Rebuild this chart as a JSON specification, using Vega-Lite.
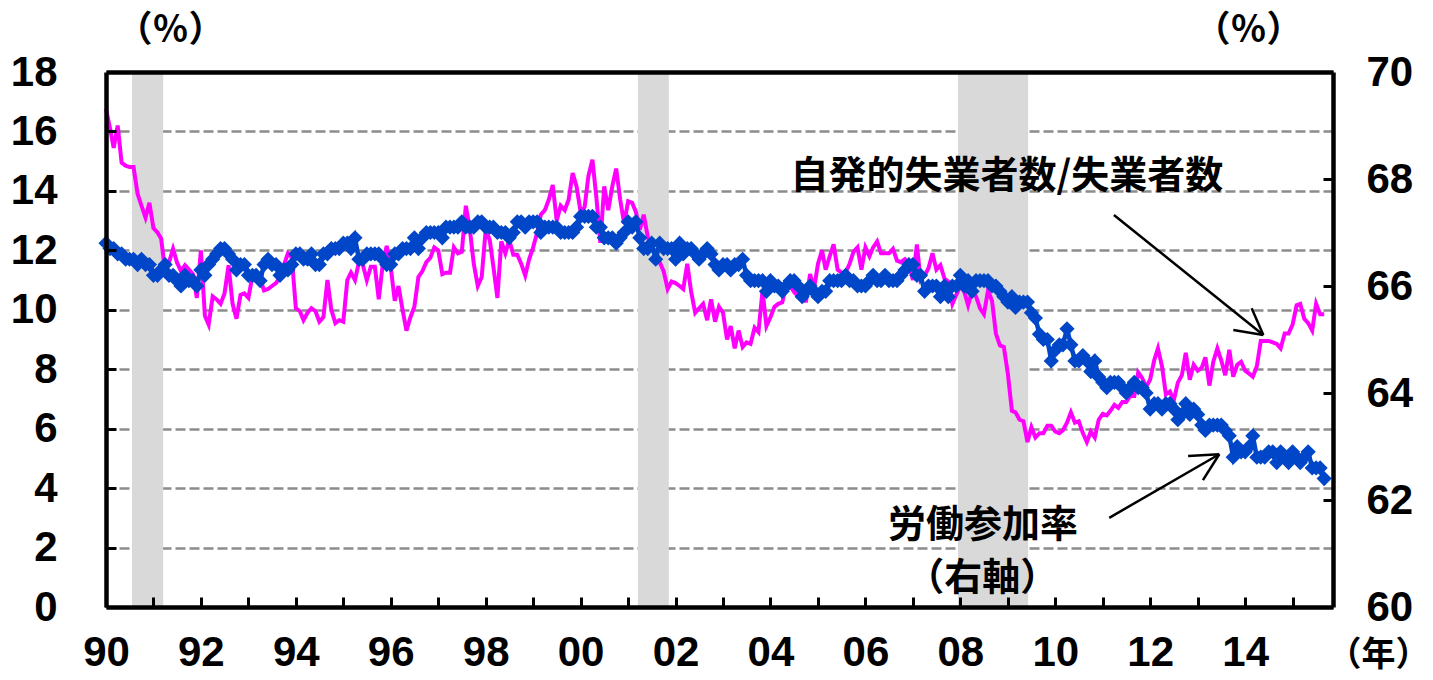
{
"$schema":"https://vega.github.io/schema/vega-lite/v6.json",
"width":1227,"height":535,
"autosize":{"type":"none"},
"padding":{"left":106,"top":72,"right":100,"bottom":73},
"background":"white",
"config":{"view":{"stroke":null},
"axis":{"labelFont":"Liberation Sans","labelFontWeight":"bold","labelFontSize":42,"labelColor":"black","domainColor":"black","domainWidth":4.5,"tickColor":"black","tickWidth":3,"tickSize":-10,"labelOverlap":false,"labelFlush":false,"labelBound":false,"titleFont":"Noto Sans CJK JP","titleFontWeight":"bold","titleFontSize":36,"titleColor":"black","grid":false}},
"datasets":{
"rec":[{"start":"1990-07-20","end":"1991-03-17"},{"start":"2001-03-17","end":"2001-11-10"},{"start":"2007-12-14","end":"2009-06-06"}],
"arrows":[
{"x":"2011-03-28","y":13.19,"x2":"2014-05-21","y2":9.15},
{"x":"2014-05-21","y":9.15,"x2":"2013-10-02","y2":9.32},
{"x":"2014-05-21","y":9.15,"x2":"2014-02-20","y2":10.05},
{"x":"2011-02-20","y":3.0,"x2":"2013-06-16","y2":5.14},
{"x":"2013-06-16","y":5.14,"x2":"2012-10-19","y2":5.08},
{"x":"2013-06-16","y":5.14,"x2":"2013-02-10","y2":4.27}],
"notes":[
{"x":"2008-12-24","y":14.47,"label":"自発的失業者数/失業者数"},
{"x":"2008-06-24","y":2.72,"label":"労働参加率"},
{"x":"2008-06-17","y":0.95,"label":"（右軸）"}],
"m":[
{"m":"1990-01","p":16.76,"b":66.8},{"m":"1990-02","p":16.1,"b":66.7},{"m":"1990-03","p":15.45,"b":66.7},{"m":"1990-04","p":16.2,"b":66.6},{"m":"1990-05","p":14.95,"b":66.6},{"m":"1990-06","p":14.85,"b":66.5},{"m":"1990-07","p":14.8,"b":66.5},{"m":"1990-08","p":14.8,"b":66.5},{"m":"1990-09","p":13.9,"b":66.4},{"m":"1990-10","p":13.5,"b":66.5},{"m":"1990-11","p":13.1,"b":66.4},{"m":"1990-12","p":13.6,"b":66.4},
{"m":"1991-01","p":12.75,"b":66.2},{"m":"1991-02","p":12.6,"b":66.2},{"m":"1991-03","p":12.4,"b":66.3},{"m":"1991-04","p":11.3,"b":66.4},{"m":"1991-05","p":11.6,"b":66.2},{"m":"1991-06","p":12.05,"b":66.2},{"m":"1991-07","p":11.6,"b":66.1},{"m":"1991-08","p":11.3,"b":66.0},{"m":"1991-09","p":11.5,"b":66.2},{"m":"1991-10","p":11.35,"b":66.1},{"m":"1991-11","p":11.2,"b":66.1},{"m":"1991-12","p":10.4,"b":66.0},
{"m":"1992-01","p":12.0,"b":66.3},{"m":"1992-02","p":9.8,"b":66.2},{"m":"1992-03","p":9.5,"b":66.4},{"m":"1992-04","p":10.45,"b":66.5},{"m":"1992-05","p":10.35,"b":66.6},{"m":"1992-06","p":10.2,"b":66.7},{"m":"1992-07","p":10.55,"b":66.7},{"m":"1992-08","p":11.5,"b":66.6},{"m":"1992-09","p":10.2,"b":66.5},{"m":"1992-10","p":9.7,"b":66.3},{"m":"1992-11","p":10.5,"b":66.4},{"m":"1992-12","p":10.55,"b":66.4},
{"m":"1993-01","p":10.4,"b":66.2},{"m":"1993-02","p":11.15,"b":66.2},{"m":"1993-03","p":11.1,"b":66.2},{"m":"1993-04","p":11.05,"b":66.1},{"m":"1993-05","p":10.65,"b":66.4},{"m":"1993-06","p":10.7,"b":66.5},{"m":"1993-07","p":10.8,"b":66.4},{"m":"1993-08","p":10.9,"b":66.4},{"m":"1993-09","p":11.1,"b":66.2},{"m":"1993-10","p":11.5,"b":66.3},{"m":"1993-11","p":11.9,"b":66.3},{"m":"1993-12","p":11.75,"b":66.4},
{"m":"1994-01","p":10.05,"b":66.6},{"m":"1994-02","p":9.95,"b":66.6},{"m":"1994-03","p":9.65,"b":66.5},{"m":"1994-04","p":9.9,"b":66.5},{"m":"1994-05","p":10.05,"b":66.6},{"m":"1994-06","p":9.95,"b":66.4},{"m":"1994-07","p":9.6,"b":66.4},{"m":"1994-08","p":9.75,"b":66.6},{"m":"1994-09","p":11.0,"b":66.6},{"m":"1994-10","p":10.0,"b":66.7},{"m":"1994-11","p":9.55,"b":66.7},{"m":"1994-12","p":9.65,"b":66.7},
{"m":"1995-01","p":9.6,"b":66.8},{"m":"1995-02","p":11.0,"b":66.8},{"m":"1995-03","p":11.25,"b":66.7},{"m":"1995-04","p":11.0,"b":66.9},{"m":"1995-05","p":11.6,"b":66.5},{"m":"1995-06","p":11.5,"b":66.5},{"m":"1995-07","p":11.0,"b":66.6},{"m":"1995-08","p":11.45,"b":66.6},{"m":"1995-09","p":11.45,"b":66.6},{"m":"1995-10","p":10.35,"b":66.6},{"m":"1995-11","p":11.55,"b":66.5},{"m":"1995-12","p":12.15,"b":66.4},
{"m":"1996-01","p":11.45,"b":66.4},{"m":"1996-02","p":10.3,"b":66.6},{"m":"1996-03","p":10.8,"b":66.6},{"m":"1996-04","p":10.0,"b":66.7},{"m":"1996-05","p":9.3,"b":66.7},{"m":"1996-06","p":9.75,"b":66.7},{"m":"1996-07","p":10.1,"b":66.9},{"m":"1996-08","p":11.1,"b":66.7},{"m":"1996-09","p":11.3,"b":66.9},{"m":"1996-10","p":11.6,"b":67.0},{"m":"1996-11","p":11.75,"b":67.0},{"m":"1996-12","p":12.1,"b":67.0},
{"m":"1997-01","p":12.0,"b":67.0},{"m":"1997-02","p":11.2,"b":66.9},{"m":"1997-03","p":11.25,"b":67.1},{"m":"1997-04","p":11.25,"b":67.1},{"m":"1997-05","p":12.1,"b":67.1},{"m":"1997-06","p":11.9,"b":67.1},{"m":"1997-07","p":11.95,"b":67.2},{"m":"1997-08","p":13.5,"b":67.1},{"m":"1997-09","p":12.7,"b":67.1},{"m":"1997-10","p":11.55,"b":67.1},{"m":"1997-11","p":10.8,"b":67.2},{"m":"1997-12","p":11.1,"b":67.2},
{"m":"1998-01","p":12.7,"b":67.1},{"m":"1998-02","p":12.35,"b":67.1},{"m":"1998-03","p":11.45,"b":67.1},{"m":"1998-04","p":10.4,"b":67.0},{"m":"1998-05","p":12.3,"b":67.0},{"m":"1998-06","p":11.9,"b":67.0},{"m":"1998-07","p":12.35,"b":66.9},{"m":"1998-08","p":11.85,"b":67.0},{"m":"1998-09","p":11.85,"b":67.2},{"m":"1998-10","p":11.55,"b":67.2},{"m":"1998-11","p":11.15,"b":67.1},{"m":"1998-12","p":11.7,"b":67.2},
{"m":"1999-01","p":12.1,"b":67.2},{"m":"1999-02","p":12.6,"b":67.2},{"m":"1999-03","p":13.2,"b":67.0},{"m":"1999-04","p":13.35,"b":67.1},{"m":"1999-05","p":13.7,"b":67.1},{"m":"1999-06","p":14.2,"b":67.1},{"m":"1999-07","p":13.0,"b":67.1},{"m":"1999-08","p":13.5,"b":67.0},{"m":"1999-09","p":13.35,"b":67.0},{"m":"1999-10","p":13.7,"b":67.0},{"m":"1999-11","p":14.6,"b":67.0},{"m":"1999-12","p":14.15,"b":67.1},
{"m":"2000-01","p":13.3,"b":67.3},{"m":"2000-02","p":13.45,"b":67.3},{"m":"2000-03","p":14.5,"b":67.3},{"m":"2000-04","p":15.05,"b":67.3},{"m":"2000-05","p":13.8,"b":67.1},{"m":"2000-06","p":12.25,"b":67.1},{"m":"2000-07","p":14.15,"b":66.9},{"m":"2000-08","p":13.35,"b":66.9},{"m":"2000-09","p":14.15,"b":66.9},{"m":"2000-10","p":14.75,"b":66.8},{"m":"2000-11","p":13.7,"b":66.9},{"m":"2000-12","p":12.9,"b":67.0},
{"m":"2001-01","p":13.65,"b":67.2},{"m":"2001-02","p":13.6,"b":67.1},{"m":"2001-03","p":13.3,"b":67.2},{"m":"2001-04","p":12.7,"b":66.9},{"m":"2001-05","p":13.2,"b":66.7},{"m":"2001-06","p":12.45,"b":66.7},{"m":"2001-07","p":12.0,"b":66.8},{"m":"2001-08","p":12.0,"b":66.5},{"m":"2001-09","p":11.6,"b":66.8},{"m":"2001-10","p":11.3,"b":66.7},{"m":"2001-11","p":10.7,"b":66.7},{"m":"2001-12","p":10.95,"b":66.7},
{"m":"2002-01","p":10.9,"b":66.5},{"m":"2002-02","p":10.8,"b":66.8},{"m":"2002-03","p":10.7,"b":66.6},{"m":"2002-04","p":11.55,"b":66.7},{"m":"2002-05","p":10.6,"b":66.7},{"m":"2002-06","p":9.9,"b":66.6},{"m":"2002-07","p":10.05,"b":66.5},{"m":"2002-08","p":10.2,"b":66.6},{"m":"2002-09","p":9.65,"b":66.7},{"m":"2002-10","p":10.35,"b":66.6},{"m":"2002-11","p":9.6,"b":66.4},{"m":"2002-12","p":10.1,"b":66.3},
{"m":"2003-01","p":9.9,"b":66.4},{"m":"2003-02","p":9.0,"b":66.4},{"m":"2003-03","p":9.45,"b":66.3},{"m":"2003-04","p":8.7,"b":66.4},{"m":"2003-05","p":9.3,"b":66.4},{"m":"2003-06","p":8.75,"b":66.5},{"m":"2003-07","p":8.9,"b":66.2},{"m":"2003-08","p":8.85,"b":66.1},{"m":"2003-09","p":9.4,"b":66.1},{"m":"2003-10","p":9.25,"b":66.1},{"m":"2003-11","p":10.65,"b":66.1},{"m":"2003-12","p":9.45,"b":65.9},
{"m":"2004-01","p":9.75,"b":66.1},{"m":"2004-02","p":10.1,"b":66.0},{"m":"2004-03","p":10.2,"b":66.0},{"m":"2004-04","p":10.25,"b":65.9},{"m":"2004-05","p":10.8,"b":66.0},{"m":"2004-06","p":10.8,"b":66.1},{"m":"2004-07","p":10.6,"b":66.1},{"m":"2004-08","p":10.45,"b":66.0},{"m":"2004-09","p":10.3,"b":65.8},{"m":"2004-10","p":10.3,"b":65.9},{"m":"2004-11","p":11.2,"b":66.0},{"m":"2004-12","p":10.7,"b":65.9},
{"m":"2005-01","p":11.55,"b":65.8},{"m":"2005-02","p":12.0,"b":65.9},{"m":"2005-03","p":11.35,"b":65.9},{"m":"2005-04","p":11.8,"b":66.1},{"m":"2005-05","p":12.2,"b":66.1},{"m":"2005-06","p":11.35,"b":66.1},{"m":"2005-07","p":11.25,"b":66.1},{"m":"2005-08","p":11.25,"b":66.2},{"m":"2005-09","p":11.55,"b":66.1},{"m":"2005-10","p":11.95,"b":66.1},{"m":"2005-11","p":12.1,"b":66.0},{"m":"2005-12","p":11.35,"b":66.0},
{"m":"2006-01","p":12.1,"b":66.0},{"m":"2006-02","p":11.8,"b":66.1},{"m":"2006-03","p":12.1,"b":66.2},{"m":"2006-04","p":12.3,"b":66.1},{"m":"2006-05","p":11.9,"b":66.1},{"m":"2006-06","p":11.9,"b":66.2},{"m":"2006-07","p":11.9,"b":66.1},{"m":"2006-08","p":12.05,"b":66.1},{"m":"2006-09","p":11.65,"b":66.1},{"m":"2006-10","p":11.6,"b":66.2},{"m":"2006-11","p":11.7,"b":66.3},{"m":"2006-12","p":11.55,"b":66.4},
{"m":"2007-01","p":11.0,"b":66.4},{"m":"2007-02","p":12.2,"b":66.2},{"m":"2007-03","p":11.0,"b":66.2},{"m":"2007-04","p":11.15,"b":65.9},{"m":"2007-05","p":11.4,"b":66.0},{"m":"2007-06","p":11.9,"b":66.0},{"m":"2007-07","p":11.35,"b":66.0},{"m":"2007-08","p":11.5,"b":65.8},{"m":"2007-09","p":11.05,"b":66.0},{"m":"2007-10","p":10.95,"b":65.8},{"m":"2007-11","p":10.2,"b":66.0},{"m":"2007-12","p":10.5,"b":66.0},
{"m":"2008-01","p":10.8,"b":66.2},{"m":"2008-02","p":10.6,"b":66.0},{"m":"2008-03","p":10.15,"b":66.1},{"m":"2008-04","p":10.65,"b":65.9},{"m":"2008-05","p":10.45,"b":66.1},{"m":"2008-06","p":10.05,"b":66.1},{"m":"2008-07","p":9.85,"b":66.1},{"m":"2008-08","p":10.65,"b":66.1},{"m":"2008-09","p":10.3,"b":66.0},{"m":"2008-10","p":9.2,"b":66.0},{"m":"2008-11","p":8.8,"b":65.9},{"m":"2008-12","p":8.75,"b":65.8},
{"m":"2009-01","p":7.85,"b":65.7},{"m":"2009-02","p":6.6,"b":65.8},{"m":"2009-03","p":6.55,"b":65.6},{"m":"2009-04","p":6.3,"b":65.7},{"m":"2009-05","p":6.25,"b":65.7},{"m":"2009-06","p":5.55,"b":65.7},{"m":"2009-07","p":6.05,"b":65.5},{"m":"2009-08","p":5.7,"b":65.4},{"m":"2009-09","p":5.85,"b":65.1},{"m":"2009-10","p":5.85,"b":65.0},{"m":"2009-11","p":6.1,"b":65.0},{"m":"2009-12","p":6.1,"b":64.6},
{"m":"2010-01","p":5.9,"b":64.8},{"m":"2010-02","p":5.85,"b":64.9},{"m":"2010-03","p":5.95,"b":64.9},{"m":"2010-04","p":6.2,"b":65.2},{"m":"2010-05","p":6.55,"b":64.9},{"m":"2010-06","p":6.2,"b":64.6},{"m":"2010-07","p":6.25,"b":64.6},{"m":"2010-08","p":5.85,"b":64.7},{"m":"2010-09","p":5.55,"b":64.6},{"m":"2010-10","p":5.9,"b":64.4},{"m":"2010-11","p":5.7,"b":64.6},{"m":"2010-12","p":6.3,"b":64.3},
{"m":"2011-01","p":6.5,"b":64.2},{"m":"2011-02","p":6.45,"b":64.1},{"m":"2011-03","p":6.6,"b":64.2},{"m":"2011-04","p":6.8,"b":64.2},{"m":"2011-05","p":6.7,"b":64.2},{"m":"2011-06","p":6.9,"b":64.1},{"m":"2011-07","p":6.9,"b":64.0},{"m":"2011-08","p":7.1,"b":64.1},{"m":"2011-09","p":7.1,"b":64.2},{"m":"2011-10","p":7.9,"b":64.1},{"m":"2011-11","p":7.7,"b":64.1},{"m":"2011-12","p":7.4,"b":64.0},
{"m":"2012-01","p":7.65,"b":63.7},{"m":"2012-02","p":8.3,"b":63.8},{"m":"2012-03","p":8.7,"b":63.8},{"m":"2012-04","p":8.1,"b":63.7},{"m":"2012-05","p":7.15,"b":63.8},{"m":"2012-06","p":7.25,"b":63.8},{"m":"2012-07","p":6.95,"b":63.7},{"m":"2012-08","p":7.55,"b":63.5},{"m":"2012-09","p":7.8,"b":63.6},{"m":"2012-10","p":8.55,"b":63.8},{"m":"2012-11","p":7.65,"b":63.6},{"m":"2012-12","p":8.15,"b":63.7},
{"m":"2013-01","p":7.95,"b":63.6},{"m":"2013-02","p":8.05,"b":63.4},{"m":"2013-03","p":8.4,"b":63.3},{"m":"2013-04","p":7.45,"b":63.4},{"m":"2013-05","p":8.25,"b":63.4},{"m":"2013-06","p":8.7,"b":63.4},{"m":"2013-07","p":8.3,"b":63.4},{"m":"2013-08","p":7.8,"b":63.3},{"m":"2013-09","p":8.65,"b":63.2},{"m":"2013-10","p":7.75,"b":62.8},{"m":"2013-11","p":8.15,"b":63.0},{"m":"2013-12","p":8.25,"b":62.9},
{"m":"2014-01","p":7.95,"b":62.9},{"m":"2014-02","p":7.85,"b":63.0},{"m":"2014-03","p":7.75,"b":63.2},{"m":"2014-04","p":8.1,"b":62.8},{"m":"2014-05","p":8.95,"b":62.8},{"m":"2014-06","p":8.95,"b":62.8},{"m":"2014-07","p":8.95,"b":62.9},{"m":"2014-08","p":8.9,"b":62.9},{"m":"2014-09","p":8.85,"b":62.7},{"m":"2014-10","p":8.7,"b":62.9},{"m":"2014-11","p":9.2,"b":62.8},{"m":"2014-12","p":9.2,"b":62.7},
{"m":"2015-01","p":9.5,"b":62.9},{"m":"2015-02","p":10.15,"b":62.8},{"m":"2015-03","p":10.2,"b":62.7},{"m":"2015-04","p":9.7,"b":62.8},{"m":"2015-05","p":9.55,"b":62.9},{"m":"2015-06","p":9.3,"b":62.6},{"m":"2015-07","p":10.2,"b":62.6},{"m":"2015-08","p":9.85,"b":62.6},{"m":"2015-09","p":9.85,"b":62.4}
]},
"resolve":{"scale":{"y":"independent"}},
"layer":[
{"layer":[
 {"data":{"name":"rec"},
  "mark":{"type":"rect","color":"#D9D9D9"},
  "encoding":{
   "x":{"field":"start","type":"temporal","scale":{"type":"utc","domain":[{"year":1990,"month":1,"date":1,"utc":true},{"year":2015,"month":11,"date":8,"utc":true}]},"axis":null},
   "x2":{"field":"end"}}},
 {"data":{"name":"m"},
  "mark":{"type":"line","color":"#FF00FF","strokeWidth":4},
  "encoding":{
   "x":{"field":"m","type":"temporal","scale":{"type":"utc","domain":[{"year":1990,"month":1,"date":1,"utc":true},{"year":2015,"month":11,"date":8,"utc":true}]},
     "axis":{"orient":"bottom","zindex":1,"values":[{"year":1990,"utc":true},{"year":1991,"utc":true},{"year":1992,"utc":true},{"year":1993,"utc":true},{"year":1994,"utc":true},{"year":1995,"utc":true},{"year":1996,"utc":true},{"year":1997,"utc":true},{"year":1998,"utc":true},{"year":1999,"utc":true},{"year":2000,"utc":true},{"year":2001,"utc":true},{"year":2002,"utc":true},{"year":2003,"utc":true},{"year":2004,"utc":true},{"year":2005,"utc":true},{"year":2006,"utc":true},{"year":2007,"utc":true},{"year":2008,"utc":true},{"year":2009,"utc":true},{"year":2010,"utc":true},{"year":2011,"utc":true},{"year":2012,"utc":true},{"year":2013,"utc":true},{"year":2014,"utc":true},{"year":2015,"utc":true}],
       "labelExpr":"utcyear(datum.value) % 2 == 0 ? utcFormat(datum.value, '%y') : ''",
       "labelPadding":35,"title":"（年）","titleX":1272,"titleY":48,"titleAlign":"center","titleBaseline":"middle","titleFontSize":34}},
   "y":{"field":"p","type":"quantitative","scale":{"domain":[0,18],"nice":false},
     "axis":{"orient":"left","zindex":1,"values":[0,2,4,6,8,10,12,14,16,18],"labelPadding":59,"title":"（％）","titleAngle":0,"titleX":64,"titleY":-42,"titleAlign":"center","titleBaseline":"middle"}}}},
 {"data":{"name":"arrows"},
  "mark":{"type":"rule","color":"black","strokeWidth":2.5},
  "encoding":{
   "x":{"field":"x","type":"temporal","scale":{"type":"utc","domain":[{"year":1990,"month":1,"date":1,"utc":true},{"year":2015,"month":11,"date":8,"utc":true}]},
     "axis":{"orient":"top","zindex":1,"labels":false,"ticks":false,"title":null}},
   "x2":{"field":"x2"},
   "y":{"field":"y","type":"quantitative","scale":{"domain":[0,18],"nice":false},
     "axis":{"orient":"right","zindex":0,"domain":false,"labels":false,"ticks":false,"title":null,"grid":true,"gridColor":"#8C8C8C","gridDash":[10,4],"gridWidth":2.5,"values":[2,4,6,8,10,12,14,16]}},
   "y2":{"field":"y2"}}},
 {"data":{"name":"notes"},
  "mark":{"type":"text","font":"Noto Sans CJK JP","fontWeight":"bold","fontSize":38,"color":"black","align":"center","baseline":"middle"},
  "encoding":{
   "x":{"field":"x","type":"temporal","scale":{"type":"utc","domain":[{"year":1990,"month":1,"date":1,"utc":true},{"year":2015,"month":11,"date":8,"utc":true}]},"axis":null},
   "y":{"field":"y","type":"quantitative","scale":{"domain":[0,18],"nice":false},"axis":null},
   "text":{"field":"label"}}}
]},
{"data":{"name":"m"},
 "mark":{"type":"line","color":"#0046C8","strokeWidth":4.5,"point":{"shape":"diamond","size":230,"filled":true,"color":"#0046C8","opacity":1}},
 "encoding":{
  "x":{"field":"m","type":"temporal","scale":{"type":"utc","domain":[{"year":1990,"month":1,"date":1,"utc":true},{"year":2015,"month":11,"date":8,"utc":true}]},"axis":null},
  "y":{"field":"b","type":"quantitative","scale":{"domain":[60,70],"nice":false},
    "axis":{"orient":"right","zindex":1,"values":[60,62,64,66,68,70],"labelPadding":43,"title":"（％）","titleAngle":0,"titleX":-85,"titleY":-42,"titleAlign":"center","titleBaseline":"middle"}}}}
]
}
